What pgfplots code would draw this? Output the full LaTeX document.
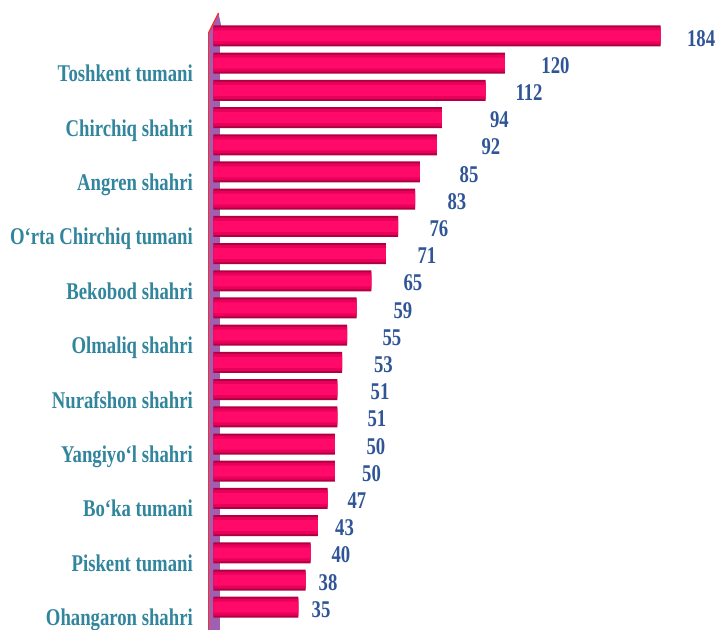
\documentclass[border=0pt]{standalone}
\usepackage{pgfplots}
\pgfplotsset{compat=1.18}
\usepackage{pgfplotstable}
\usepackage{fontspec}
\setmainfont{Liberation Serif}[FakeStretch=0.78]
\definecolor{barPink}{HTML}{FF0A68}
\definecolor{barMid}{HTML}{E8005C}
\definecolor{barDark}{HTML}{B0003F}
\definecolor{wallPurple}{HTML}{A060B0}
\definecolor{catTeal}{HTML}{31859C}
\definecolor{valBlue}{HTML}{2F5597}
\definecolor{axisRed}{HTML}{FF2A2A}

\pgfplotstableread{
idx value
0 184
1 120
2 112
3 94
4 92
5 85
6 83
7 76
8 71
9 65
10 59
11 55
12 53
13 51
14 51
15 50
16 50
17 47
18 43
19 40
20 38
21 35
}\bars

\pgfplotstableread{
idx pos lab
0 200.7 184
1 140.8 120
2 129.9 112
3 117.7 94
4 114.2 92
5 105.2 85
6 100.2 83
7 92.8 76
8 87.9 71
9 82.1 65
10 78.0 59
11 73.5 55
12 70.0 53
13 68.6 51
14 67.3 51
15 66.9 50
16 65.1 50
17 59.1 47
18 54.0 43
19 52.5 40
20 47.2 38
21 44.3 35
}\vals

\begin{document}
\begin{tikzpicture}
\useasboundingbox (0,0) rectangle (716bp,630bp);
\clip (0,0) rectangle (716bp,630bp);
\begin{axis}[
  at={(208.5bp,-18bp)}, anchor=south west,
  scale only axis, width=515.2bp, height=615bp,
  xmin=-2, xmax=210, ymin=-0.11, ymax=22.5,
  y dir=reverse,
  clip=false,
  axis x line=none,
  xtick=\empty,
  axis y line=left,
  y axis line style={axisRed, line width=1.2bp, -},
  ytick={1,3,...,21},
  yticklabels={Toshkent tumani, Chirchiq shahri, Angren shahri, O‘rta Chirchiq tumani, Bekobod shahri, Olmaliq shahri, Nurafshon shahri, Yangiyo‘l shahri, Bo‘ka tumani, Piskent tumani, Ohangaron shahri},
  major tick length=0pt,
  yticklabel style={anchor=base east, inner sep=0pt, xshift=-15.5bp, yshift=-18.5bp, font=\fontsize{24bp}{26bp}\selectfont\bfseries, text=catTeal},
]
\fill[wallPurple] (axis cs:-2,-0.11) rectangle (axis cs:2.6,22.5);
\fill[wallPurple] (axis cs:-2,-0.11) -- ++(10bp,20bp) -- ++(0,-20bp) -- cycle;
\addplot[xbar, bar width=21bp, fill=barDark, draw=none] table[x=value, y=idx] {\bars};
\addplot[xbar, bar width=17bp, fill=barMid, draw=none] table[x=value, y=idx] {\bars};
\addplot[xbar, bar width=11bp, fill=barPink, draw=none] table[x=value, y=idx] {\bars};
\addplot[only marks, mark=none, nodes near coords, point meta=explicit symbolic,
  nodes near coords align={center},
  every node near coord/.append style={font=\fontsize{24bp}{26bp}\selectfont\bfseries, text=valBlue, inner sep=0pt}]
  table[x=pos, y expr=\thisrow{idx}+0.08, meta=lab] {\vals};
\draw[axisRed, line width=1.2bp] (axis cs:-2,-0.11) -- ++(10bp,20bp);
\end{axis}
\end{tikzpicture}
\end{document}
